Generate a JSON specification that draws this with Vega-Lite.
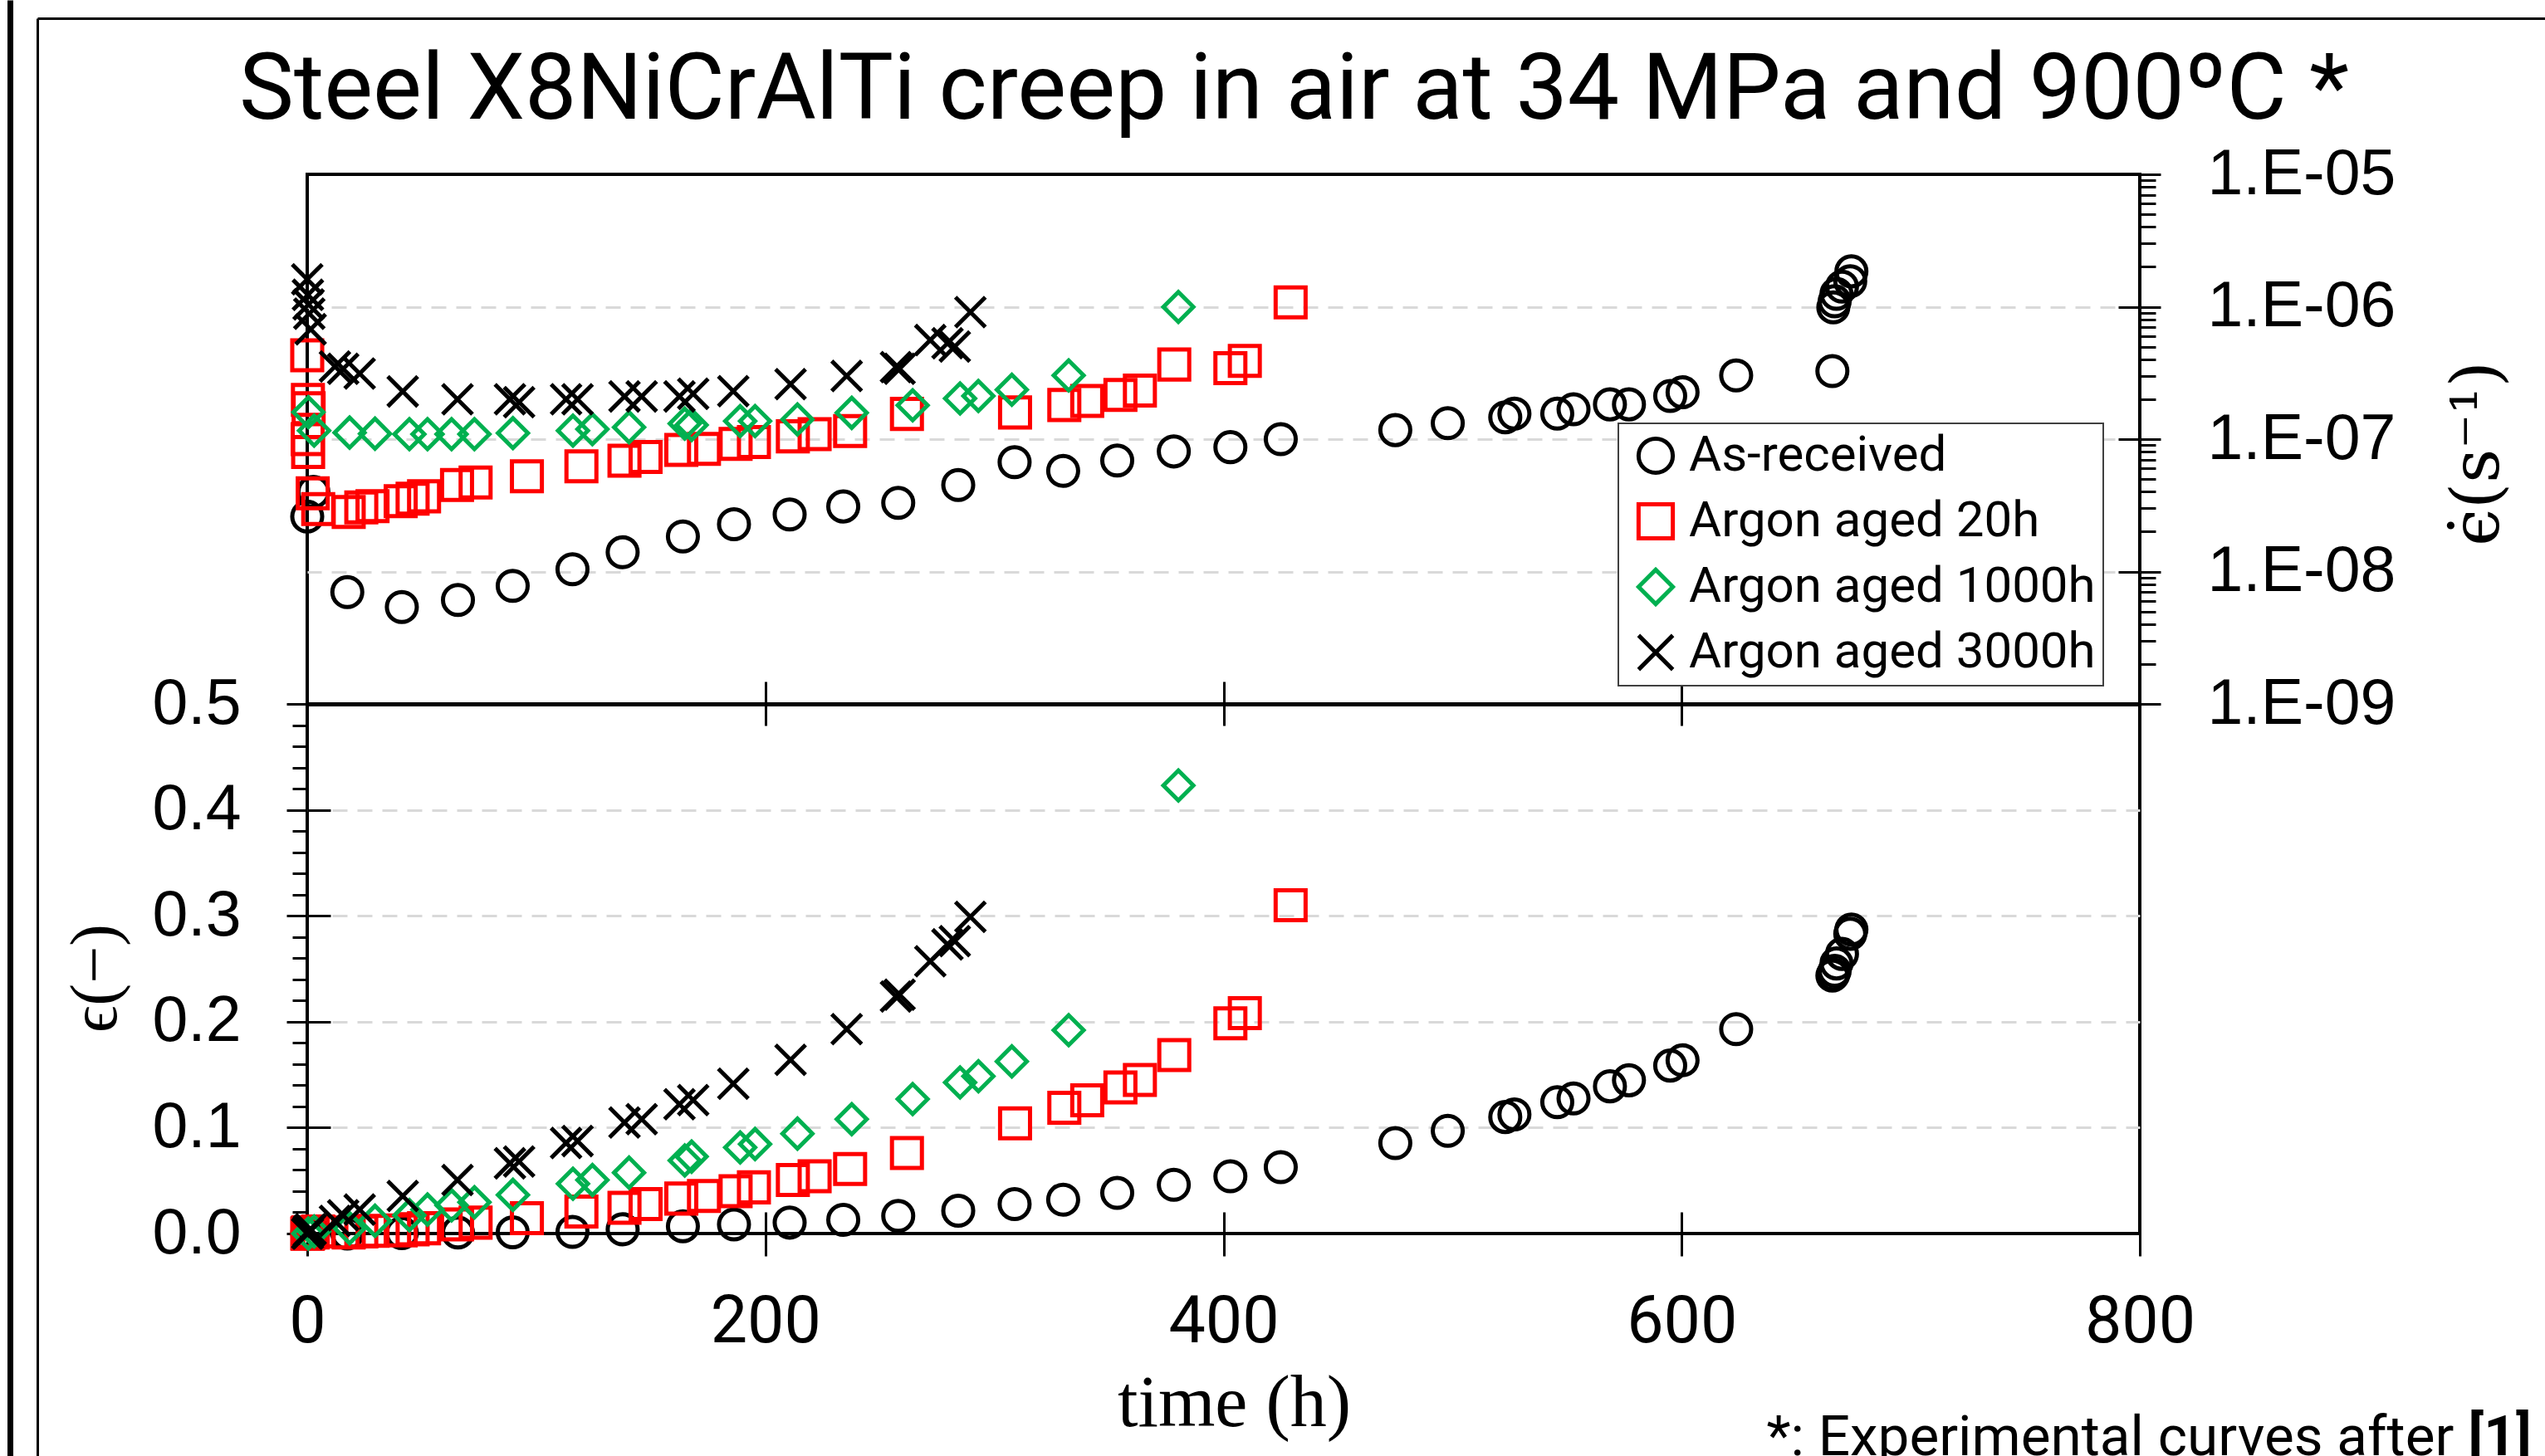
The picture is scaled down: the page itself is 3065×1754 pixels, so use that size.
{
  "$schema": "https://vega.github.io/schema/vega-lite/v6.json",
  "autosize": "none",
  "width": 2207,
  "height": 1276,
  "padding": {"left": 370, "top": 210, "right": 488, "bottom": 268},
  "background": "white",
  "title": {
    "text": "Steel X8NiCrAlTi creep in air at 34 MPa and 900ºC *",
    "font": "Roboto", "fontSize": 111, "fontWeight": "normal", "color": "black",
    "anchor": "middle", "frame": "group", "baseline": "alphabetic", "offset": -232, "dx": 85
  },
  "config": {
    "view": {"stroke": "black", "strokeWidth": 4},
    "legend": {"strokeWidth": 2},
    "axis": {"tickColor": "black", "domainColor": "black", "tickWidth": 3, "labelColor": "black", "titleColor": "black", "titleFontWeight": "normal", "labelOverlap": false, "labelFlush": false, "labelLimit": 600}
  },
  "data": {
    "values": [
      {"series": "As-received", "time": 0, "rate": 2.6e-8, "strain": 0},
      {"series": "As-received", "time": 2.7, "rate": 4.0e-8, "strain": 0.001},
      {"series": "As-received", "time": 17.5, "rate": 7.0e-9, "strain": 0.0},
      {"series": "As-received", "time": 41.3, "rate": 5.4e-9, "strain": 0.0005},
      {"series": "As-received", "time": 65.8, "rate": 6.1e-9, "strain": 0.001},
      {"series": "As-received", "time": 89.7, "rate": 7.8e-9, "strain": 0.0012},
      {"series": "As-received", "time": 115.8, "rate": 1.04e-8, "strain": 0.0016},
      {"series": "As-received", "time": 137.7, "rate": 1.4e-8, "strain": 0.004},
      {"series": "As-received", "time": 164, "rate": 1.84e-8, "strain": 0.0068},
      {"series": "As-received", "time": 186.3, "rate": 2.28e-8, "strain": 0.0086},
      {"series": "As-received", "time": 210.6, "rate": 2.7e-8, "strain": 0.0103},
      {"series": "As-received", "time": 234, "rate": 3.1e-8, "strain": 0.013},
      {"series": "As-received", "time": 258, "rate": 3.3e-8, "strain": 0.0166},
      {"series": "As-received", "time": 284.2, "rate": 4.5e-8, "strain": 0.0215},
      {"series": "As-received", "time": 308.8, "rate": 6.7e-8, "strain": 0.0278},
      {"series": "As-received", "time": 330, "rate": 5.76e-8, "strain": 0.032},
      {"series": "As-received", "time": 353.6, "rate": 6.9e-8, "strain": 0.0384},
      {"series": "As-received", "time": 378.3, "rate": 8.07e-8, "strain": 0.046},
      {"series": "As-received", "time": 403, "rate": 8.7e-8, "strain": 0.054},
      {"series": "As-received", "time": 425, "rate": 1.0e-7, "strain": 0.0627},
      {"series": "As-received", "time": 475, "rate": 1.17e-7, "strain": 0.0854},
      {"series": "As-received", "time": 497.9, "rate": 1.32e-7, "strain": 0.097},
      {"series": "As-received", "time": 523, "rate": 1.46e-7, "strain": 0.11},
      {"series": "As-received", "time": 527, "rate": 1.56e-7, "strain": 0.1125},
      {"series": "As-received", "time": 545.7, "rate": 1.56e-7, "strain": 0.124},
      {"series": "As-received", "time": 552.8, "rate": 1.68e-7, "strain": 0.1275},
      {"series": "As-received", "time": 568.7, "rate": 1.83e-7, "strain": 0.139},
      {"series": "As-received", "time": 577, "rate": 1.83e-7, "strain": 0.1447},
      {"series": "As-received", "time": 595, "rate": 2.12e-7, "strain": 0.1586},
      {"series": "As-received", "time": 600.4, "rate": 2.26e-7, "strain": 0.1636},
      {"series": "As-received", "time": 623.8, "rate": 3.03e-7, "strain": 0.193},
      {"series": "As-received", "time": 665.8, "rate": 3.27e-7, "strain": 0.2435},
      {"series": "As-received", "time": 666.2, "rate": 9.9e-7, "strain": 0.2447},
      {"series": "As-received", "time": 666.8, "rate": 1.1e-6, "strain": 0.248},
      {"series": "As-received", "time": 667.6, "rate": 1.25e-6, "strain": 0.255},
      {"series": "As-received", "time": 670, "rate": 1.42e-6, "strain": 0.264},
      {"series": "As-received", "time": 673.6, "rate": 1.56e-6, "strain": 0.283},
      {"series": "As-received", "time": 674.1, "rate": 1.85e-6, "strain": 0.287},

      {"series": "Argon aged 20h", "time": 0, "rate": 4.3e-7, "strain": 0},
      {"series": "Argon aged 20h", "time": 0.3, "rate": 1.98e-7, "strain": 0},
      {"series": "Argon aged 20h", "time": 0.6, "rate": 1.71e-7, "strain": 0.001},
      {"series": "Argon aged 20h", "time": 0.2, "rate": 1.0e-7, "strain": 0},
      {"series": "Argon aged 20h", "time": 0.4, "rate": 8.0e-8, "strain": 0.001},
      {"series": "Argon aged 20h", "time": 2.4, "rate": 3.9e-8, "strain": 0.001},
      {"series": "Argon aged 20h", "time": 4.8, "rate": 2.96e-8, "strain": 0.002},
      {"series": "Argon aged 20h", "time": 18.1, "rate": 2.82e-8, "strain": 0.001},
      {"series": "Argon aged 20h", "time": 23.6, "rate": 3.05e-8, "strain": 0.002},
      {"series": "Argon aged 20h", "time": 28.5, "rate": 3.12e-8, "strain": 0.0025},
      {"series": "Argon aged 20h", "time": 40.8, "rate": 3.4e-8, "strain": 0.003},
      {"series": "Argon aged 20h", "time": 46, "rate": 3.55e-8, "strain": 0.004},
      {"series": "Argon aged 20h", "time": 51, "rate": 3.7e-8, "strain": 0.005},
      {"series": "Argon aged 20h", "time": 65.4, "rate": 4.5e-8, "strain": 0.0086},
      {"series": "Argon aged 20h", "time": 73.5, "rate": 4.7e-8, "strain": 0.0103},
      {"series": "Argon aged 20h", "time": 95.9, "rate": 5.24e-8, "strain": 0.0145},
      {"series": "Argon aged 20h", "time": 119.7, "rate": 6.24e-8, "strain": 0.0208},
      {"series": "Argon aged 20h", "time": 138.5, "rate": 6.87e-8, "strain": 0.0243},
      {"series": "Argon aged 20h", "time": 147.7, "rate": 7.33e-8, "strain": 0.0278},
      {"series": "Argon aged 20h", "time": 163.3, "rate": 8.3e-8, "strain": 0.033},
      {"series": "Argon aged 20h", "time": 173.2, "rate": 8.45e-8, "strain": 0.0355},
      {"series": "Argon aged 20h", "time": 187, "rate": 9.2e-8, "strain": 0.04},
      {"series": "Argon aged 20h", "time": 195, "rate": 9.5e-8, "strain": 0.0436},
      {"series": "Argon aged 20h", "time": 212, "rate": 1.05e-7, "strain": 0.0505},
      {"series": "Argon aged 20h", "time": 221.5, "rate": 1.09e-7, "strain": 0.054},
      {"series": "Argon aged 20h", "time": 237, "rate": 1.15e-7, "strain": 0.061},
      {"series": "Argon aged 20h", "time": 261.8, "rate": 1.55e-7, "strain": 0.076},
      {"series": "Argon aged 20h", "time": 309, "rate": 1.59e-7, "strain": 0.104},
      {"series": "Argon aged 20h", "time": 330.5, "rate": 1.81e-7, "strain": 0.1187},
      {"series": "Argon aged 20h", "time": 340.5, "rate": 1.94e-7, "strain": 0.1258},
      {"series": "Argon aged 20h", "time": 355, "rate": 2.16e-7, "strain": 0.138},
      {"series": "Argon aged 20h", "time": 363.5, "rate": 2.33e-7, "strain": 0.145},
      {"series": "Argon aged 20h", "time": 378.5, "rate": 3.66e-7, "strain": 0.1685},
      {"series": "Argon aged 20h", "time": 403, "rate": 3.44e-7, "strain": 0.1985},
      {"series": "Argon aged 20h", "time": 409.3, "rate": 3.9e-7, "strain": 0.208},
      {"series": "Argon aged 20h", "time": 429.3, "rate": 1.08e-6, "strain": 0.31},

      {"series": "Argon aged 1000h", "time": 0.5, "rate": 1.6e-7, "strain": 0.0},
      {"series": "Argon aged 1000h", "time": 3, "rate": 1.16e-7, "strain": 0.002},
      {"series": "Argon aged 1000h", "time": 18.5, "rate": 1.12e-7, "strain": 0.005},
      {"series": "Argon aged 1000h", "time": 29.6, "rate": 1.1e-7, "strain": 0.012},
      {"series": "Argon aged 1000h", "time": 44.6, "rate": 1.09e-7, "strain": 0.0173},
      {"series": "Argon aged 1000h", "time": 52.5, "rate": 1.09e-7, "strain": 0.0226},
      {"series": "Argon aged 1000h", "time": 63, "rate": 1.09e-7, "strain": 0.0267},
      {"series": "Argon aged 1000h", "time": 73, "rate": 1.09e-7, "strain": 0.0295},
      {"series": "Argon aged 1000h", "time": 89.8, "rate": 1.11e-7, "strain": 0.0365},
      {"series": "Argon aged 1000h", "time": 116, "rate": 1.16e-7, "strain": 0.047},
      {"series": "Argon aged 1000h", "time": 124.5, "rate": 1.19e-7, "strain": 0.0505},
      {"series": "Argon aged 1000h", "time": 140.5, "rate": 1.23e-7, "strain": 0.0575},
      {"series": "Argon aged 1000h", "time": 164.8, "rate": 1.31e-7, "strain": 0.069},
      {"series": "Argon aged 1000h", "time": 167.8, "rate": 1.28e-7, "strain": 0.0726},
      {"series": "Argon aged 1000h", "time": 189, "rate": 1.37e-7, "strain": 0.0813},
      {"series": "Argon aged 1000h", "time": 195.5, "rate": 1.37e-7, "strain": 0.0845},
      {"series": "Argon aged 1000h", "time": 214, "rate": 1.41e-7, "strain": 0.0943},
      {"series": "Argon aged 1000h", "time": 237.7, "rate": 1.58e-7, "strain": 0.108},
      {"series": "Argon aged 1000h", "time": 264.3, "rate": 1.8e-7, "strain": 0.127},
      {"series": "Argon aged 1000h", "time": 285, "rate": 2.03e-7, "strain": 0.1426},
      {"series": "Argon aged 1000h", "time": 293, "rate": 2.12e-7, "strain": 0.1485},
      {"series": "Argon aged 1000h", "time": 307.6, "rate": 2.36e-7, "strain": 0.1625},
      {"series": "Argon aged 1000h", "time": 332.4, "rate": 3.03e-7, "strain": 0.192},
      {"series": "Argon aged 1000h", "time": 380.3, "rate": 9.97e-7, "strain": 0.423},

      {"series": "Argon aged 3000h", "time": 0, "rate": 1.61e-6, "strain": 0},
      {"series": "Argon aged 3000h", "time": 0.3, "rate": 1.23e-6, "strain": 0},
      {"series": "Argon aged 3000h", "time": 0.6, "rate": 1.04e-6, "strain": 0.002},
      {"series": "Argon aged 3000h", "time": 0.9, "rate": 8.86e-7, "strain": 0.003},
      {"series": "Argon aged 3000h", "time": 1.5, "rate": 6.76e-7, "strain": 0.004},
      {"series": "Argon aged 3000h", "time": 12.1, "rate": 3.54e-7, "strain": 0.012},
      {"series": "Argon aged 3000h", "time": 15.7, "rate": 3.4e-7, "strain": 0.0173},
      {"series": "Argon aged 3000h", "time": 22.9, "rate": 3.13e-7, "strain": 0.0226},
      {"series": "Argon aged 3000h", "time": 41.7, "rate": 2.29e-7, "strain": 0.0355},
      {"series": "Argon aged 3000h", "time": 65.6, "rate": 2.0e-7, "strain": 0.0505},
      {"series": "Argon aged 3000h", "time": 88.5, "rate": 2.0e-7, "strain": 0.0663},
      {"series": "Argon aged 3000h", "time": 92.5, "rate": 1.9e-7, "strain": 0.068},
      {"series": "Argon aged 3000h", "time": 113, "rate": 2.0e-7, "strain": 0.0855},
      {"series": "Argon aged 3000h", "time": 118, "rate": 2.0e-7, "strain": 0.0873},
      {"series": "Argon aged 3000h", "time": 138.5, "rate": 2.1e-7, "strain": 0.1048},
      {"series": "Argon aged 3000h", "time": 146, "rate": 2.1e-7, "strain": 0.108},
      {"series": "Argon aged 3000h", "time": 162.5, "rate": 2.1e-7, "strain": 0.122},
      {"series": "Argon aged 3000h", "time": 168.5, "rate": 2.2e-7, "strain": 0.126},
      {"series": "Argon aged 3000h", "time": 186, "rate": 2.3e-7, "strain": 0.1415},
      {"series": "Argon aged 3000h", "time": 211, "rate": 2.6e-7, "strain": 0.164},
      {"series": "Argon aged 3000h", "time": 235.5, "rate": 3.0e-7, "strain": 0.193},
      {"series": "Argon aged 3000h", "time": 257, "rate": 3.5e-7, "strain": 0.2237},
      {"series": "Argon aged 3000h", "time": 258.6, "rate": 3.4e-7, "strain": 0.2255},
      {"series": "Argon aged 3000h", "time": 272, "rate": 5.6e-7, "strain": 0.257},
      {"series": "Argon aged 3000h", "time": 279.5, "rate": 5.3e-7, "strain": 0.273},
      {"series": "Argon aged 3000h", "time": 282.7, "rate": 5.0e-7, "strain": 0.276},
      {"series": "Argon aged 3000h", "time": 289.5, "rate": 9.1e-7, "strain": 0.299}
    ]
  },
  "resolve": {"scale": {"x": "independent", "y": "independent"}, "axis": {"x": "independent", "y": "independent"}},
  "layer": [
    {
      "mark": {"type": "point", "filled": false, "strokeWidth": 5, "size": 1300, "opacity": 1},
      "encoding": {
        "x": {"field": "time", "type": "quantitative", "scale": {"domain": [0, 800], "nice": false, "zero": false},
          "axis": {"orient": "bottom", "values": [0, 200, 400, 600, 800], "tickSize": 27, "domain": false, "grid": false,
            "labelFont": "Roboto", "labelFontSize": 79, "labelPadding": 41,
            "title": "time (h)", "titleFont": "Liberation Serif", "titleFontSize": 88, "titleX": 1116, "titleY": 205, "titleAlign": "center", "titleBaseline": "middle", "titleAngle": 0}},
        "y": {"field": "strain", "type": "quantitative", "scale": {"domain": [0, 0.5], "range": [1276, 638], "nice": false},
          "axis": {"orient": "left", "values": [0, 0.1, 0.2, 0.3, 0.4, 0.5], "format": ".1f", "tickSize": 25, "domain": false,
            "grid": true, "gridDash": [18, 12], "gridColor": "#d9d9d9", "gridWidth": 3,
            "gridOpacity": {"condition": {"test": "datum.value > 0.05 && datum.value < 0.45", "value": 1}, "value": 0},
            "labelFont": "Liberation Sans", "labelFontSize": 77, "labelPadding": 55,
            "title": "ϵ(−)", "titleFont": "Liberation Serif", "titleFontSize": 80, "titleX": -255, "titleY": 968, "titleAngle": -90, "titleAlign": "center", "titleBaseline": "middle"}},
        "color": {"field": "series", "type": "nominal",
          "scale": {"domain": ["As-received", "Argon aged 20h", "Argon aged 1000h", "Argon aged 3000h"], "range": ["#000000", "#ff0000", "#00b050", "#000000"]},
          "legend": {"orient": "none", "legendX": 1579, "legendY": 300, "title": null, "labelFont": "Roboto", "labelFontSize": 60, "labelColor": "black", "labelLimit": 0,
            "symbolSize": 1700, "symbolStrokeWidth": 5, "rowPadding": 17, "padding": 9, "symbolOffset": 6, "labelOffset": 10,
            "strokeColor": "#404040", "fillColor": "white"}},
        "shape": {"field": "series", "type": "nominal",
          "scale": {"domain": ["As-received", "Argon aged 20h", "Argon aged 1000h", "Argon aged 3000h"], "range": ["circle", "square", "diamond", "M-1,-1L1,1M-1,1L1,-1"]},
          "legend": {"orient": "none", "legendX": 1579, "legendY": 300, "title": null, "labelFont": "Roboto", "labelFontSize": 60, "labelColor": "black", "labelLimit": 0,
            "symbolSize": 1700, "symbolStrokeWidth": 5, "rowPadding": 17, "padding": 9, "symbolOffset": 6, "labelOffset": 10,
            "strokeColor": "#404040", "fillColor": "white"}}
      }
    },
    {
      "mark": {"type": "point", "filled": false, "strokeWidth": 5, "size": 1300, "opacity": 1},
      "encoding": {
        "x": {"field": "time", "type": "quantitative", "scale": {"domain": [0, 800], "nice": false, "zero": false},
          "axis": {"orient": "top", "offset": -638, "values": [0, 200, 400, 600, 800], "tickSize": 27, "labels": false, "domain": true, "domainWidth": 5, "grid": false, "title": null}},
        "y": {"field": "rate", "type": "quantitative", "scale": {"type": "log", "domain": [1e-9, 1e-5], "range": [638, 0], "nice": false},
          "axis": {"orient": "right", "values": [1e-9, 1e-8, 1e-7, 1e-6, 1e-5],
            "labelExpr": "'1.E-' + format(round(-log(datum.value)/LN10), '02d')",
            "tickSize": 25, "domain": false,
            "grid": true, "gridDash": [18, 12], "gridColor": "#d9d9d9", "gridWidth": 3,
            "gridOpacity": {"condition": {"test": "datum.value > 2e-9 && datum.value < 5e-6", "value": 1}, "value": 0},
            "labelFont": "Liberation Sans", "labelFontSize": 77, "labelPadding": 56,
            "title": "ϵ̇(s⁻¹)", "titleFont": "DejaVu Serif", "titleFontSize": 80, "titleX": 407, "titleY": 336, "titleAngle": -90, "titleAlign": "center", "titleBaseline": "middle"}},
        "color": {"field": "series", "type": "nominal"},
        "shape": {"field": "series", "type": "nominal"}
      }
    },
    {
      "mark": {"type": "point", "opacity": 0},
      "encoding": {
        "x": {"field": "time", "type": "quantitative", "scale": {"domain": [0, 800], "nice": false, "zero": false},
          "axis": {"orient": "bottom", "values": [0, 200, 400, 600, 800], "tickSize": -26, "labels": false, "domain": false, "grid": false,
            "title": "*: Experimental curves after", "titleFont": "Roboto", "titleFontSize": 67.5, "titleX": 1757, "titleY": 266, "titleAlign": "left", "titleBaseline": "alphabetic", "titleAngle": 0}},
        "y": {"field": "strain", "type": "quantitative", "scale": {"domain": [0, 0.5], "range": [1276, 638], "nice": false},
          "axis": {"orient": "left", "values": [0.02, 0.04, 0.06, 0.08, 0.12, 0.14, 0.16, 0.18, 0.22, 0.24, 0.26, 0.28, 0.32, 0.34, 0.36, 0.38, 0.42, 0.44, 0.46, 0.48],
            "tickSize": 18, "labels": false, "domain": false, "grid": false, "title": null}}
      }
    },
    {
      "mark": {"type": "point", "opacity": 0},
      "encoding": {
        "x": {"field": "time", "type": "quantitative", "scale": {"domain": [0, 800], "nice": false, "zero": false},
          "axis": {"orient": "top", "offset": -638, "values": [0, 200, 400, 600, 800], "tickSize": -26, "labels": false, "domain": false, "grid": false, "title": null}},
        "y": {"field": "rate", "type": "quantitative", "scale": {"type": "log", "domain": [1e-9, 1e-5], "range": [638, 0], "nice": false},
          "axis": {"orient": "right", "values": [2e-9, 3e-9, 4e-9, 5e-9, 6e-9, 7e-9, 8e-9, 9e-9, 2e-8, 3e-8, 4e-8, 5e-8, 6e-8, 7e-8, 8e-8, 9e-8, 2e-7, 3e-7, 4e-7, 5e-7, 6e-7, 7e-7, 8e-7, 9e-7, 2e-6, 3e-6, 4e-6, 5e-6, 6e-6, 7e-6, 8e-6, 9e-6],
            "tickSize": 19, "labels": false, "domain": false, "grid": false, "title": null}}
      }
    },
    {
      "mark": {"type": "point", "opacity": 0},
      "encoding": {
        "x": {"field": "time", "type": "quantitative", "scale": {"domain": [0, 800], "nice": false, "zero": false},
          "axis": {"orient": "bottom", "ticks": false, "labels": false, "domain": false, "grid": false,
            "title": "[1]", "titleFont": "Roboto", "titleFontSize": 67.5, "titleFontWeight": "bold", "titleX": 2602, "titleY": 266, "titleAlign": "left", "titleBaseline": "alphabetic", "titleAngle": 0}},
        "y": {"field": "strain", "type": "quantitative", "scale": {"domain": [0, 0.5], "range": [1276, 638], "nice": false},
          "axis": {"orient": "left", "values": [0.1, 0.2, 0.3, 0.4, 0.5], "tickSize": -28, "labels": false, "domain": false, "grid": false, "title": null}}
      }
    },
    {
      "mark": {"type": "point", "opacity": 0},
      "encoding": {
        "x": {"field": "time", "type": "quantitative", "scale": {"domain": [0, 800], "nice": false, "zero": false}, "axis": null},
        "y": {"field": "rate", "type": "quantitative", "scale": {"type": "log", "domain": [1e-9, 1e-5], "range": [638, 0], "nice": false},
          "axis": {"orient": "right", "values": [1e-9, 1e-8, 1e-7, 1e-6, 1e-5], "tickSize": -26, "labels": false, "domain": false, "grid": false, "title": null}}
      }
    },
    {
      "mark": {"type": "point", "opacity": 0},
      "encoding": {
        "x": {"field": "time", "type": "quantitative", "scale": {"domain": [0, 800], "range": [-325, 2695], "nice": false, "zero": false},
          "axis": {"orient": "top", "offset": 188, "ticks": false, "labels": false, "grid": false, "domain": true, "domainWidth": 3, "title": null}},
        "y": {"field": "strain", "type": "quantitative", "scale": {"domain": [0, 1], "range": [1544, -188], "nice": false},
          "axis": {"orient": "left", "offset": 325, "ticks": false, "labels": false, "grid": false, "domain": true, "domainWidth": 3, "title": null}}
      }
    },
    {
      "mark": {"type": "point", "opacity": 0},
      "encoding": {
        "x": {"field": "time", "type": "quantitative", "scale": {"domain": [0, 800], "nice": false, "zero": false}, "axis": null},
        "y": {"field": "strain", "type": "quantitative", "scale": {"domain": [0, 1], "range": [1544, -210], "nice": false},
          "axis": {"orient": "left", "offset": 358, "ticks": false, "labels": false, "grid": false, "domain": true, "domainWidth": 7, "title": null}}
      }
    }
  ]
}
